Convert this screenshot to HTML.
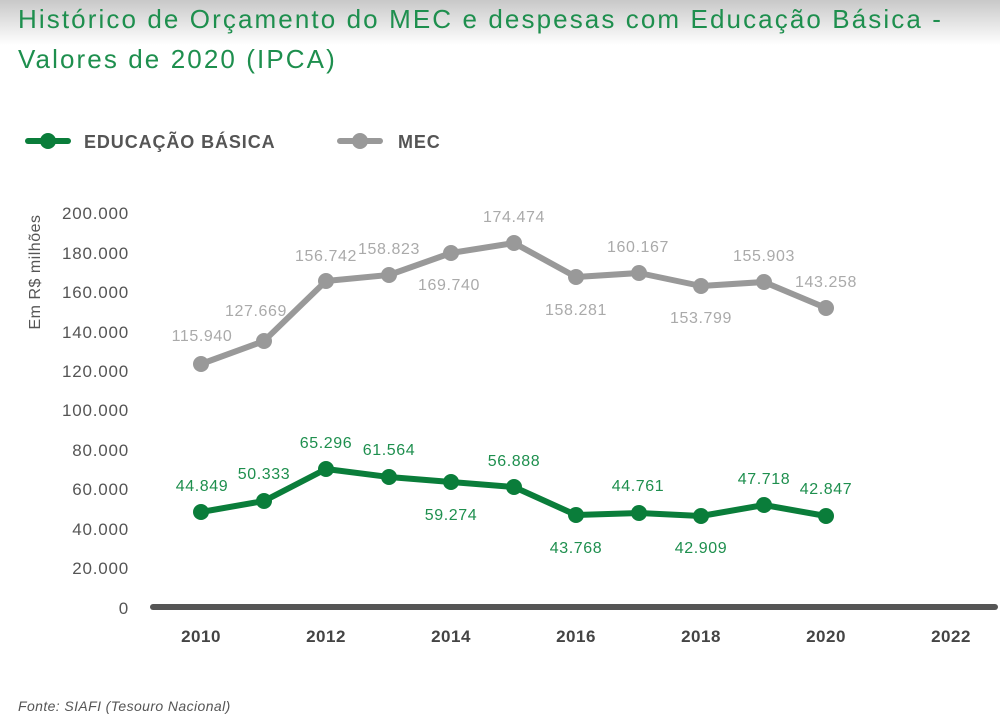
<!DOCTYPE html>
<html><head><meta charset="utf-8"><style>
body{margin:0;width:1000px;height:716px;overflow:hidden;background:#fff;font-family:"Liberation Sans",sans-serif;}
.top{position:absolute;left:0;top:0;width:1000px;height:45px;background:linear-gradient(#c8c8c8,#fff);}
.t{position:absolute;left:18px;color:#1e8f4e;font-size:26px;letter-spacing:2.1px;}
svg{position:absolute;left:0;top:0}
</style></head><body>
<div class="top"></div>
<div class="t" style="top:4px">Histórico de Orçamento do MEC e despesas com Educação Básica -</div>
<div class="t" style="top:44px">Valores de 2020 (IPCA)</div>
<svg width="1000" height="716" font-family="Liberation Sans, sans-serif">
<g stroke-linecap="round">
<line x1="28" y1="141" x2="68" y2="141" stroke="#0a7d3a" stroke-width="6"/><circle cx="48" cy="141" r="8" fill="#0a7d3a"/>
<line x1="340" y1="141" x2="380" y2="141" stroke="#999" stroke-width="6"/><circle cx="360" cy="141" r="8" fill="#999"/>
</g>
<text x="84" y="148" font-size="18" font-weight="bold" fill="#555" letter-spacing="0.9">EDUCAÇÃO BÁSICA</text>
<text x="398" y="148" font-size="18" font-weight="bold" fill="#555" letter-spacing="0.9">MEC</text>
<text transform="translate(40,272) rotate(-90)" text-anchor="middle" font-size="16" fill="#555" letter-spacing="0.5">Em R$ milhões</text>
<g font-size="17" fill="#555" text-anchor="end" letter-spacing="0.8">
<text x="129" y="219">200.000</text><text x="129" y="259">180.000</text><text x="129" y="298">160.000</text><text x="129" y="338">140.000</text><text x="129" y="377">120.000</text><text x="129" y="416">100.000</text><text x="129" y="456">80.000</text><text x="129" y="495">60.000</text><text x="129" y="535">40.000</text><text x="129" y="574">20.000</text><text x="129" y="614">0</text>
</g>
<line x1="153" y1="607" x2="995" y2="607" stroke="#555" stroke-width="6" stroke-linecap="round"/>
<g font-size="17" font-weight="bold" fill="#444" text-anchor="middle" letter-spacing="0.5">
<text x="201" y="642">2010</text><text x="326" y="642">2012</text><text x="451" y="642">2014</text><text x="576" y="642">2016</text><text x="701" y="642">2018</text><text x="826" y="642">2020</text><text x="951" y="642">2022</text>
</g>
<polyline fill="none" stroke="#999" stroke-width="6" stroke-linejoin="round" points="201,364 264,341 326,281 389,275 451,253 514,243 576,277 639,273 701,286 764,282 826,308"/>
<g fill="#999"><circle cx="201" cy="364" r="8"/><circle cx="264" cy="341" r="8"/><circle cx="326" cy="281" r="8"/><circle cx="389" cy="275" r="8"/><circle cx="451" cy="253" r="8"/><circle cx="514" cy="243" r="8"/><circle cx="576" cy="277" r="8"/><circle cx="639" cy="273" r="8"/><circle cx="701" cy="286" r="8"/><circle cx="764" cy="282" r="8"/><circle cx="826" cy="308" r="8"/></g>
<polyline fill="none" stroke="#0a7d3a" stroke-width="6" stroke-linejoin="round" points="201,512 264,501 326,469 389,477 451,482 514,487 576,515 639,513 701,516 764,505 826,516"/>
<g fill="#0a7d3a"><circle cx="201" cy="512" r="8"/><circle cx="264" cy="501" r="8"/><circle cx="326" cy="469" r="8"/><circle cx="389" cy="477" r="8"/><circle cx="451" cy="482" r="8"/><circle cx="514" cy="487" r="8"/><circle cx="576" cy="515" r="8"/><circle cx="639" cy="513" r="8"/><circle cx="701" cy="516" r="8"/><circle cx="764" cy="505" r="8"/><circle cx="826" cy="516" r="8"/></g>
<g font-size="16" fill="#aaa" text-anchor="middle" letter-spacing="0.6">
<text x="202" y="341">115.940</text><text x="256" y="316">127.669</text><text x="326" y="261">156.742</text><text x="389" y="254">158.823</text><text x="449" y="290">169.740</text><text x="514" y="222">174.474</text><text x="576" y="315">158.281</text><text x="638" y="252">160.167</text><text x="701" y="323">153.799</text><text x="764" y="261">155.903</text><text x="826" y="287">143.258</text>
</g>
<g font-size="16" fill="#1e8f4e" text-anchor="middle" letter-spacing="0.6">
<text x="202" y="491">44.849</text><text x="264" y="479">50.333</text><text x="326" y="448">65.296</text><text x="389" y="455">61.564</text><text x="451" y="520">59.274</text><text x="514" y="466">56.888</text><text x="576" y="553">43.768</text><text x="638" y="491">44.761</text><text x="701" y="553">42.909</text><text x="764" y="484">47.718</text><text x="826" y="494">42.847</text>
</g>
<text x="18" y="711" font-size="14" font-style="italic" fill="#555" letter-spacing="0.4">Fonte: SIAFI (Tesouro Nacional)</text>
</svg>
</body></html>
